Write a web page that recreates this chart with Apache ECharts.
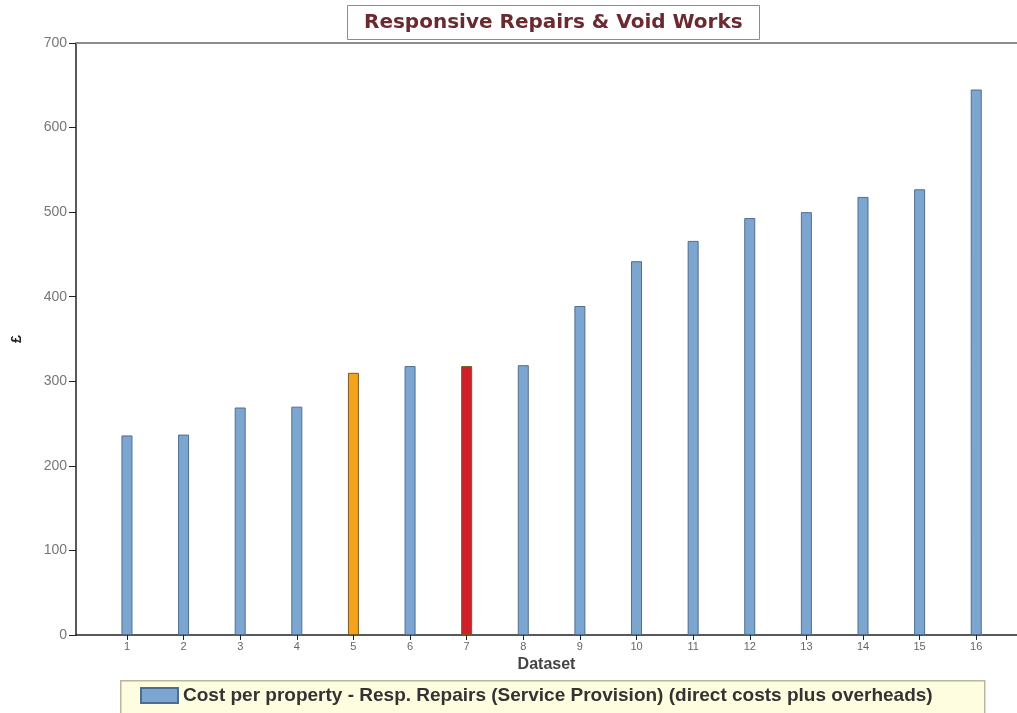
<!DOCTYPE html>
<html>
<head>
<meta charset="utf-8">
<script src="https://cdn.jsdelivr.net/npm/echarts@6/dist/echarts.min.js"></script>
<style>
  html, body { margin: 0; padding: 0; background: #ffffff; }
  #chart { width: 1017px; height: 713px; }
</style>
</head>
<body>
<div id="chart"></div>
<script>
const datasets = [1, 2, 3, 4, 5, 6, 7, 8, 9, 10, 11, 12, 13, 14, 15, 16];
const costs = [236, 237, 269, 270, 310, 318, 318, 319, 389, 442, 466, 493, 500, 518, 527, 645];
const highlight = { 5: "#f5a31c", 7: "#cf1f2b" };
const yTicks = [0, 100, 200, 300, 400, 500, 600, 700];
const seriesName = "Cost per property - Resp. Repairs (Service Provision) (direct costs plus overheads)";

const chart = echarts.init(document.getElementById("chart"));

const barData = datasets.map((d, i) => {
  const item = { value: [d, costs[i]] };
  if (highlight[d]) {
    item.itemStyle = { color: highlight[d], borderColor: "#7a5a20" };
  }
  return item;
});

const options = {
  backgroundColor: "#ffffff",
  animation: false,
  title: {
    text: "Responsive Repairs & Void Works",
    left: 347,
    top: 5,
    padding: [8, 17, 7, 17],
    borderColor: "#8c8c8c",
    borderWidth: 1,
    backgroundColor: "#ffffff",
    textStyle: {
      fontFamily: "DejaVu Sans",
      fontSize: 20,
      fontWeight: "bold",
      color: "#6a2a30",
    },
  },
  grid: { left: 76, right: 0, top: 43, bottom: 78 },
  // legend box
  graphic: [
    {
      type: "rect",
      left: 120,
      top: 680,
      z: -1,
      shape: { width: 864, height: 40 },
      style: { fill: "#fffde0", stroke: "#b8b8a0", lineWidth: 1.5 },
    },
  ],
  xAxis: {
    type: "value",
    min: 0.1,
    max: 16.72,
    name: "Dataset",
    nameLocation: "middle",
    nameGap: 22,
    nameTextStyle: { fontFamily: "Liberation Sans", fontSize: 16, fontWeight: "bold", color: "#444" },
    splitLine: { show: false },
    axisLine: { lineStyle: { color: "#222", width: 1.5 } },
    axisTick: { customValues: datasets, length: 5, lineStyle: { color: "#222" } },
    axisLabel: {
      customValues: datasets,
      fontFamily: "Liberation Sans",
      fontSize: 11,
      color: "#666",
      margin: 6,
    },
  },
  yAxis: {
    type: "value",
    min: 0,
    max: 700,
    interval: 100,
    name: "£",
    nameLocation: "middle",
    nameGap: 52,
    nameTextStyle: { fontFamily: "Liberation Sans", fontSize: 14, fontWeight: "bold", color: "#222" },
    splitLine: { show: false },
    axisLine: { show: true, lineStyle: { color: "#222", width: 1.5 } },
    axisTick: { show: true, length: 7, lineStyle: { color: "#222" } },
    axisLabel: {
      fontFamily: "Liberation Sans",
      fontSize: 14,
      color: "#777",
      margin: 9,
      formatter: (v) => (yTicks.includes(v) ? String(v) : ""),
    },
  },
  legend: {
    left: 140,
    top: 686,
    padding: 0,
    itemWidth: 37,
    itemHeight: 15,
    icon: "rect",
    itemGap: 10,
    textStyle: { fontFamily: "Liberation Sans", fontSize: 19, fontWeight: "bold", color: "#333" },
    data: [seriesName],
  },
  series: [
    {
      name: seriesName,
      type: "bar",
      barWidth: 11,
      data: barData,
      itemStyle: { color: "#7ca5d0", borderColor: "#4e6e90", borderWidth: 1 },
    },
    {
      type: "line",
      silent: true,
      data: [],
      markLine: {
        silent: true,
        symbol: "none",
        label: { show: false },
        lineStyle: { color: "#8c8c8c", width: 2, type: "solid" },
        data: [{ yAxis: 700 }],
      },
    },
  ],
};

chart.setOption(options);
</script>
</body>
</html>
